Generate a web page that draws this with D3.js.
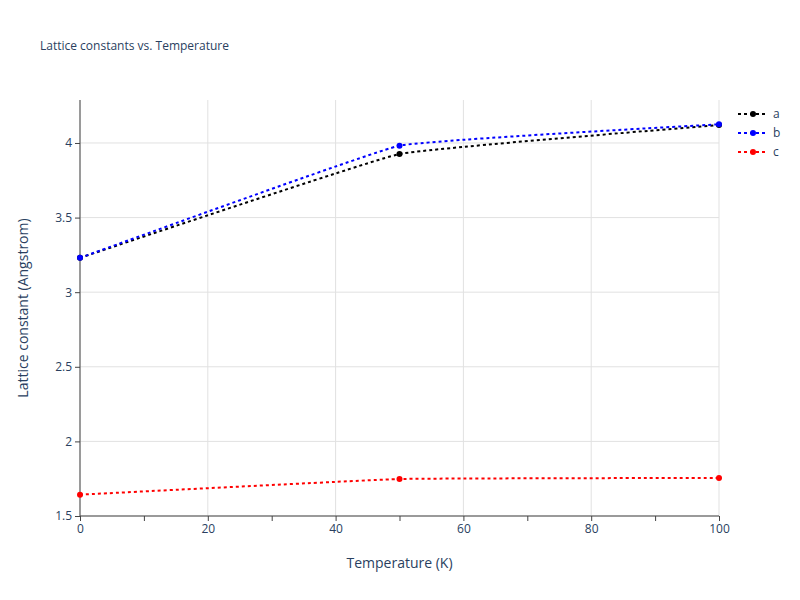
<!DOCTYPE html><html><head><script src="https://cdn.jsdelivr.net/npm/d3@7"></script>
<style>body{margin:0}text{font-family:"Open Sans",sans-serif;fill:#2a3f5f}</style></head><body>
<svg id="c" width="800" height="600"></svg>
<script>
const temps=[0,50,100];
const seriesNames=["a","b","c"];
const seriesColors=["black","blue","red"];
const aVals=[3.23,3.926,4.12];
const bVals=[3.23,3.982,4.125];
const cVals=[1.643,1.748,1.755];
const allVals=[aVals,bVals,cVals];
const xTicks=[0,20,40,60,80,100];
const yTicks=[1.5,2,2.5,3,3.5,4];
const svg=d3.select("#c");
const L=80,R=719,T=100,B=516;
const x=d3.scaleLinear().domain([0,100]).range([L,R]);
const y=d3.scaleLinear().domain([1.5,4.288]).range([B,T]);
svg.append("rect").attr("width",800).attr("height",600).attr("fill","white");
const g=svg.append("g");
xTicks.forEach(t=>g.append("line").attr("x1",x(t)).attr("x2",x(t)).attr("y1",T).attr("y2",B).attr("stroke","#e1e1e1"));
yTicks.forEach(t=>g.append("line").attr("x1",L).attr("x2",R).attr("y1",y(t)).attr("y2",y(t)).attr("stroke","#e1e1e1"));
const xa=svg.append("g").attr("transform",`translate(0,${B})`).call(d3.axisBottom(x).tickValues(d3.range(0,101,10)).tickSize(5).tickFormat(d=>d%20==0?d:""));
const ya=svg.append("g").attr("transform",`translate(${L},0)`).call(d3.axisLeft(y).tickValues(yTicks).tickSize(5).tickFormat(d3.format("")));
[xa,ya].forEach(a=>{a.select(".domain").attr("stroke","#444");a.selectAll(".tick line").attr("stroke","#444");a.selectAll("text").style("font-size","12px").attr("fill","#2a3f5f");});
xa.select(".domain").attr("d",`M${L},0H${R}`);
ya.select(".domain").attr("d",`M0,${B}V${T}`);
const line=d3.line().x((d,i)=>x(temps[i])).y(d=>y(d)).curve(d3.curveCardinal.tension(0.75));
allVals.forEach((v,k)=>{
 svg.append("path").attr("d",line(v)).attr("fill","none").attr("stroke",seriesColors[k]).attr("stroke-width",2).attr("stroke-dasharray","3,3");
 v.forEach((d,i)=>svg.append("circle").attr("cx",x(temps[i])).attr("cy",y(d)).attr("r",3).attr("fill",seriesColors[k]));
});
seriesNames.forEach((n,k)=>{
 const ly=114+k*19;
 svg.append("line").attr("x1",738).attr("x2",768).attr("y1",ly).attr("y2",ly).attr("stroke",seriesColors[k]).attr("stroke-width",2).attr("stroke-dasharray","3,3");
 svg.append("circle").attr("cx",753).attr("cy",ly).attr("r",3).attr("fill",seriesColors[k]);
 svg.append("text").attr("x",773).attr("y",ly+4).style("font-size","12px").text(n);
});
svg.append("text").attr("x",40).attr("y",50).style("font-size","12px").text("Lattice constants vs. Temperature");
svg.append("text").attr("x",(L+R)/2).attr("y",568).attr("text-anchor","middle").style("font-size","14px").text("Temperature (K)");
svg.append("text").attr("transform",`translate(28,${(T+B)/2}) rotate(-90)`).attr("text-anchor","middle").style("font-size","14px").text("Lattice constant (Angstrom)");
</script></body></html>
